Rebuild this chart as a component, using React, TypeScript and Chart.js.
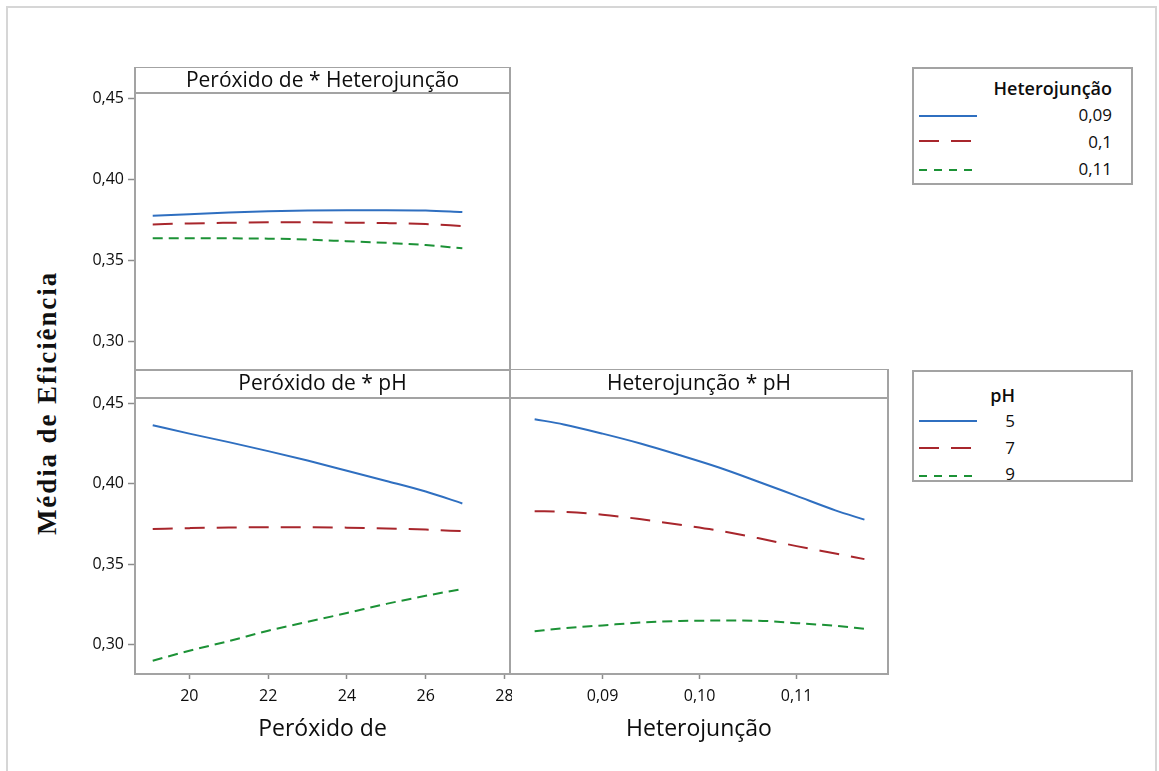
import React, { useEffect, useRef } from "react";
import { Chart, registerables } from "chart.js";
Chart.register(...registerables);

// ---------- data ----------
const peroxidoX = [19.07, 20, 21, 22, 23, 24, 25, 26, 26.93];
const hetX = [0.083, 0.086, 0.09, 0.094, 0.098, 0.102, 0.106, 0.11, 0.114, 0.117];

const perHet009 = [0.3775, 0.3785, 0.3795, 0.3803, 0.3808, 0.381, 0.381, 0.3808, 0.3798];
const perHet010 = [0.3722, 0.3728, 0.3732, 0.3735, 0.3735, 0.3733, 0.373, 0.3724, 0.3712];
const perHet011 = [0.3636, 0.3637, 0.3636, 0.3634, 0.3628, 0.3618, 0.3608, 0.3594, 0.3574];

const perPh5 = [0.4365, 0.4313, 0.426, 0.4204, 0.4145, 0.4082, 0.4018, 0.3952, 0.3878];
const perPh7 = [0.3719, 0.3724, 0.3728, 0.3729, 0.3729, 0.3727, 0.3722, 0.3715, 0.3705];
const perPh9 = [0.2898, 0.296, 0.302, 0.3085, 0.314, 0.3195, 0.3252, 0.3302, 0.3345];

const hetPh5 = [0.4403, 0.437, 0.4313, 0.425, 0.4178, 0.4102, 0.4015, 0.3925, 0.3835, 0.3777];
const hetPh7 = [0.383, 0.3825, 0.3808, 0.3779, 0.3745, 0.3708, 0.3662, 0.3612, 0.3566, 0.3531];
const hetPh9 = [0.3082, 0.31, 0.3118, 0.3136, 0.3145, 0.3148, 0.3147, 0.3132, 0.3115, 0.3097];

const yTicks = [0.3, 0.35, 0.4, 0.45];
const perTicks = [20, 22, 24, 26, 28];
const hetTicks = [0.09, 0.1, 0.11];
const hetLevels = ["0,09", "0,1", "0,11"];
const phLevels = ["5", "7", "9"];

// ---------- styles ----------
const FONT = '"Open Sans", "Noto Sans", sans-serif';
const LINE_STYLES = [
  { color: "#2f6fc0", dash: [] as number[] },
  { color: "#a8262c", dash: [20, 12] },
  { color: "#1c9236", dash: [10, 6] },
];
const FRAME = "#a3a3a3";
const TEXT = "#0d0d0d";
const Y_MIN = 0.2815;
const Y_MAX = 0.4535;

const fmtComma = (v: number, d: number) => v.toFixed(d).replace(".", ",");

const framePlugin = {
  id: "frame",
  afterDraw(chart: any, _args: any, opts: any) {
    const { ctx, chartArea } = chart;
    const { left, top, right, bottom } = chartArea;
    ctx.save();
    ctx.strokeStyle = FRAME;
    ctx.lineWidth = 2;
    ctx.strokeRect(left, top - opts.stripH, right - left, bottom - top + opts.stripH);
    ctx.beginPath();
    ctx.moveTo(left, top);
    ctx.lineTo(right, top);
    ctx.stroke();
    ctx.fillStyle = TEXT;
    ctx.font = `21px ${FONT}`;
    ctx.textAlign = "center";
    ctx.textBaseline = "middle";
    ctx.fillText(opts.title, (left + right) / 2, top - opts.stripH / 2 + 1);
    ctx.restore();
  },
};

type PanelProps = {
  left: number;
  top: number;
  width: number;
  height: number;
  stripH: number;
  title: string;
  xs: number[];
  series: number[][];
  xMin: number;
  xMax: number;
  xTicks: number[];
  xFmt: (v: number) => string;
  showX: boolean;
  showY: boolean;
  xTitle?: string;
  yAxisW: number;
  xAxisH: number;
};

function Panel(p: PanelProps) {
  const ref = useRef<HTMLCanvasElement>(null);
  useEffect(() => {
    if (!ref.current) return;
    const chart = new Chart(ref.current, {
      type: "line",
      data: {
        datasets: p.series.map((s, i) => ({
          data: p.xs.map((x, j) => ({ x, y: s[j] })),
          borderColor: LINE_STYLES[i].color,
          borderDash: LINE_STYLES[i].dash,
          borderWidth: 2,
          pointRadius: 0,
          cubicInterpolationMode: "monotone",
          fill: false,
        })),
      },
      options: {
        animation: false,
        responsive: false,
        maintainAspectRatio: false,
        layout: { padding: { top: p.stripH, left: 0, right: 2, bottom: 0 } },
        plugins: {
          legend: { display: false },
          tooltip: { enabled: false },
          frame: { title: p.title, stripH: p.stripH },
        } as any,
        scales: {
          x: {
            type: "linear",
            min: p.xMin,
            max: p.xMax,
            display: p.showX,
            afterBuildTicks: (s: any) => {
              s.ticks = p.xTicks.map((v) => ({ value: v }));
            },
            afterFit: (s: any) => {
              s.height = p.xAxisH;
              s.paddingLeft = 0;
              s.paddingRight = 0;
            },
            grid: {
              drawOnChartArea: false,
              drawTicks: true,
              tickLength: 5,
              tickColor: "#8c8c8c",
              tickWidth: 1.5,
            },
            border: { display: false },
            ticks: {
              font: { family: FONT, size: 16 },
              color: TEXT,
              padding: 8,
              maxRotation: 0,
              autoSkip: false,
              callback: (v: any) => p.xFmt(Number(v)),
            },
            title: {
              display: !!p.xTitle,
              text: p.xTitle || "",
              font: { family: FONT, size: 23 },
              color: TEXT,
              padding: { top: 0, bottom: 0 },
            },
          },
          y: {
            type: "linear",
            min: Y_MIN,
            max: Y_MAX,
            display: p.showY,
            afterBuildTicks: (s: any) => {
              s.ticks = yTicks.map((v) => ({ value: v }));
            },
            afterFit: (s: any) => {
              s.width = p.yAxisW;
              s.paddingTop = 0;
              s.paddingBottom = 0;
            },
            grid: {
              drawOnChartArea: false,
              drawTicks: true,
              tickLength: 7,
              tickColor: "#8c8c8c",
              tickWidth: 1.5,
            },
            border: { display: false },
            ticks: {
              font: { family: FONT, size: 16 },
              color: TEXT,
              padding: 4,
              autoSkip: false,
              callback: (v: any) => fmtComma(Number(v), 2),
            },
          },
        },
      } as any,
      plugins: [framePlugin],
    });
    return () => chart.destroy();
  }, []);
  return (
    <canvas
      ref={ref}
      width={p.width}
      height={p.height}
      style={{ position: "absolute", left: p.left, top: p.top, width: p.width, height: p.height }}
    />
  );
}

type LegendProps = {
  left: number;
  top: number;
  width: number;
  height: number;
  title: string;
  labels: string[];
  textRight: number;
  titleY: number;
  rowYs: number[];
  lineYs: number[];
};

function Legend(l: LegendProps) {
  return (
    <div
      style={{
        position: "absolute",
        left: l.left,
        top: l.top,
        width: l.width,
        height: l.height,
        border: `2px solid ${FRAME}`,
        boxSizing: "border-box",
        background: "#fff",
        fontFamily: FONT,
        color: TEXT,
      }}
    >
      <div
        style={{
          position: "absolute",
          right: l.width - 2 - l.textRight,
          top: l.titleY - 12,
          height: 24,
          lineHeight: "24px",
          fontSize: 18,
          fontWeight: 600,
          whiteSpace: "nowrap",
        }}
      >
        {l.title}
      </div>
      {l.labels.map((lab, i) => (
        <React.Fragment key={lab}>
          <svg
            style={{ position: "absolute", left: 5, top: l.lineYs[i] - 4 }}
            width={62}
            height={8}
          >
            <line
              x1={0}
              y1={4}
              x2={58}
              y2={4}
              stroke={LINE_STYLES[i].color}
              strokeWidth={2}
              strokeDasharray={i === 0 ? undefined : i === 1 ? "20 12" : "8 7"}
            />
          </svg>
          <div
            style={{
              position: "absolute",
              right: l.width - 2 - l.textRight,
              top: l.rowYs[i] - 12,
              height: 24,
              lineHeight: "24px",
              fontSize: 17,
              whiteSpace: "nowrap",
            }}
          >
            {lab}
          </div>
        </React.Fragment>
      ))}
    </div>
  );
}

export default function App() {
  return (
    <div
      style={{
        position: "fixed",
        left: 0,
        top: 0,
        width: 1159,
        height: 771,
        background: "#fff",
        overflow: "hidden",
      }}
    >
      <div
        style={{
          position: "absolute",
          left: 6,
          top: 6,
          width: 1151,
          height: 800,
          border: "2px solid #d6d6d6",
          boxSizing: "border-box",
        }}
      />
      <div
        style={{
          position: "absolute",
          left: 47,
          top: 403,
          transform: "translate(-50%, -50%) rotate(-90deg)",
          whiteSpace: "nowrap",
          fontFamily: '"Liberation Serif", "DejaVu Serif", serif',
          fontWeight: 700,
          fontSize: 27,
          letterSpacing: "1.9px",
          color: "#111",
        }}
      >
        Média de Eficiência
      </div>

      <Panel
        left={65}
        top={67}
        width={447}
        height={304}
        stripH={26}
        title="Peróxido de * Heterojunção"
        xs={peroxidoX}
        series={[perHet009, perHet010, perHet011]}
        xMin={18.62}
        xMax={28.14}
        xTicks={perTicks}
        xFmt={(v) => String(v)}
        showX={false}
        showY={true}
        yAxisW={70}
        xAxisH={0}
      />
      <Panel
        left={65}
        top={369}
        width={447}
        height={374}
        stripH={29}
        title="Peróxido de * pH"
        xs={peroxidoX}
        series={[perPh5, perPh7, perPh9]}
        xMin={18.62}
        xMax={28.14}
        xTicks={perTicks}
        xFmt={(v) => String(v)}
        showX={true}
        showY={true}
        xTitle="Peróxido de"
        yAxisW={70}
        xAxisH={69}
      />
      <Panel
        left={510}
        top={369}
        width={380}
        height={374}
        stripH={29}
        title="Heterojunção * pH"
        xs={hetX}
        series={[hetPh5, hetPh7, hetPh9]}
        xMin={0.08046}
        xMax={0.11943}
        xTicks={hetTicks}
        xFmt={(v) => fmtComma(v, 2)}
        showX={true}
        showY={false}
        xTitle="Heterojunção"
        yAxisW={0}
        xAxisH={69}
      />

      <Legend
        left={912}
        top={67}
        width={221}
        height={118}
        title="Heterojunção"
        labels={hetLevels}
        textRight={200}
        titleY={19}
        rowYs={[46, 72.5, 100]}
        lineYs={[47, 72, 101]}
      />
      <Legend
        left={912}
        top={370}
        width={221}
        height={112}
        title="pH"
        labels={phLevels}
        textRight={103}
        titleY={23}
        rowYs={[49, 75.5, 102]}
        lineYs={[49, 76, 104]}
      />
    </div>
  );
}
